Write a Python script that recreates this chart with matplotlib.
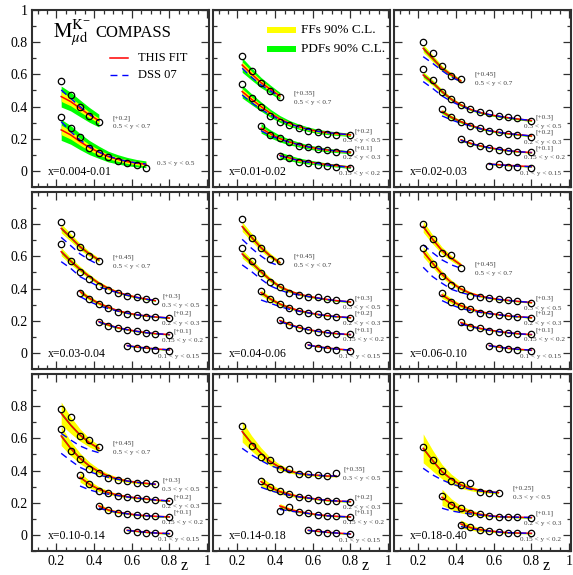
import numpy as np
import matplotlib.pyplot as plt
from matplotlib.ticker import MultipleLocator, FuncFormatter
from matplotlib.patches import Rectangle

plt.rcParams['font.family'] = ['Liberation Serif', 'DejaVu Serif']
plt.rcParams['mathtext.fontset'] = 'stix'

# z bin centres used by COMPASS
z_bins = [0.225, 0.275, 0.325, 0.375, 0.425, 0.475, 0.525, 0.575, 0.625, 0.675, 0.725, 0.8]

x_bins = ['x=0.004-0.01', 'x=0.01-0.02', 'x=0.02-0.03',
          'x=0.03-0.04', 'x=0.04-0.06', 'x=0.06-0.10',
          'x=0.10-0.14', 'x=0.14-0.18', 'x=0.18-0.40']

ybins_5 = ['0.5 < y < 0.7', '0.3 < y < 0.5', '0.2 < y < 0.3', '0.15 < y < 0.2', '0.1 < y < 0.15']

# ---- x = 0.004-0.01
p1_ybin = ['0.5 < y < 0.7', '0.3 < y < 0.5']
p1_shift = [0.2, 0.0]
p1_first = [0, 0]
p1_data = [[0.361, 0.270, 0.200, 0.142, 0.104],
           [0.337, 0.265, 0.213, 0.141, 0.114, 0.085, 0.060, 0.052, 0.039, 0.021]]
p1_fit = [[0.262, 0.231, 0.189, 0.148, 0.113],
          [0.255, 0.224, 0.182, 0.145, 0.116, 0.089, 0.072, 0.058, 0.048, 0.041]]
p1_dss = [[0.303, 0.251, 0.200, 0.154, 0.113],
          [0.306, 0.244, 0.193, 0.151, 0.118, 0.093, 0.074, 0.060, 0.050, 0.043]]
p1_ff = [[0.030, 0.026, 0.022, 0.018, 0.015],
         [0.030, 0.026, 0.022, 0.019, 0.016, 0.014, 0.012, 0.011, 0.010, 0.010]]
p1_pdf = [[0.065, 0.058, 0.052, 0.046, 0.040],
          [0.065, 0.058, 0.050, 0.044, 0.038, 0.033, 0.029, 0.026, 0.023, 0.021]]

# ---- x = 0.01-0.02
p2_ybin = ['0.5 < y < 0.7', '0.3 < y < 0.5', '0.2 < y < 0.3', '0.15 < y < 0.2']
p2_shift = [0.35, 0.2, 0.1, 0.0]
p2_first = [0, 0, 2, 4]
p2_data = [[0.364, 0.273, 0.199, 0.149, 0.108],
           [0.340, 0.251, 0.200, 0.144, 0.106, 0.086, 0.069, 0.051, 0.040, 0.030, 0.026, 0.024],
           [0.182, 0.126, 0.103, 0.082, 0.057, 0.049, 0.039, 0.028, 0.020, 0.016],
           [0.093, 0.081, 0.056, 0.048, 0.039, 0.029, 0.025, 0.019]]
p2_fit = [[0.308, 0.252, 0.199, 0.157, 0.116],
          [0.293, 0.245, 0.200, 0.158, 0.123, 0.096, 0.075, 0.059, 0.046, 0.038, 0.032, 0.024],
          [0.165, 0.130, 0.101, 0.080, 0.064, 0.049, 0.039, 0.030, 0.024, 0.016],
          [0.097, 0.081, 0.066, 0.056, 0.048, 0.039, 0.033, 0.023]]
p2_dss = [[0.288, 0.232, 0.184, 0.147, 0.112],
          [0.272, 0.224, 0.183, 0.148, 0.117, 0.093, 0.073, 0.058, 0.046, 0.038, 0.032, 0.024],
          [0.150, 0.119, 0.096, 0.078, 0.063, 0.049, 0.039, 0.030, 0.024, 0.016],
          [0.094, 0.078, 0.064, 0.054, 0.046, 0.037, 0.031, 0.021]]
p2_ff = [[0.020, 0.017, 0.014, 0.012, 0.010],
         [0.018, 0.015, 0.013, 0.011, 0.009, 0.008, 0.007, 0.006, 0.006, 0.005, 0.005, 0.005],
         [0.012, 0.010, 0.008, 0.007, 0.006, 0.005, 0.005, 0.004, 0.004, 0.004],
         [0.008, 0.007, 0.006, 0.005, 0.004, 0.004, 0.003, 0.003]]
p2_pdf = [[0.045, 0.038, 0.032, 0.026, 0.022],
          [0.040, 0.034, 0.029, 0.025, 0.021, 0.018, 0.016, 0.014, 0.013, 0.012, 0.011, 0.010],
          [0.030, 0.025, 0.021, 0.018, 0.015, 0.013, 0.012, 0.011, 0.010, 0.009],
          [0.020, 0.017, 0.015, 0.013, 0.011, 0.010, 0.009, 0.008]]

# ---- x = 0.02-0.03
p3_ybin = ybins_5
p3_shift = [0.45, 0.3, 0.2, 0.1, 0.0]
p3_first = [0, 0, 2, 4, 7]
p3_data = [[0.353, 0.281, 0.202, 0.140, 0.123],
           [0.331, 0.265, 0.193, 0.145, 0.110, 0.083, 0.064, 0.058, 0.042, 0.033, 0.027, 0.010],
           [0.183, 0.133, 0.106, 0.080, 0.065, 0.048, 0.040, 0.030, 0.024, 0.013],
           [0.097, 0.076, 0.057, 0.041, 0.030, 0.024, 0.020, 0.016],
           [0.033, 0.041, 0.027, 0.023, 0.021]]
p3_fit = [[0.312, 0.250, 0.188, 0.146, 0.109],
          [0.296, 0.249, 0.193, 0.145, 0.110, 0.083, 0.064, 0.050, 0.040, 0.031, 0.023, 0.013],
          [0.169, 0.133, 0.106, 0.084, 0.065, 0.051, 0.040, 0.032, 0.026, 0.017],
          [0.093, 0.072, 0.057, 0.045, 0.035, 0.026, 0.020, 0.014],
          [0.043, 0.039, 0.035, 0.031, 0.027]]
p3_dss = [[0.260, 0.219, 0.173, 0.132, 0.105],
          [0.255, 0.213, 0.166, 0.131, 0.104, 0.081, 0.063, 0.050, 0.040, 0.031, 0.023, 0.013],
          [0.142, 0.117, 0.096, 0.080, 0.063, 0.050, 0.040, 0.032, 0.026, 0.017],
          [0.090, 0.070, 0.056, 0.044, 0.035, 0.026, 0.020, 0.014],
          [0.042, 0.038, 0.034, 0.030, 0.026]]
p3_ff = [[0.025, 0.021, 0.017, 0.014, 0.012],
         [0.022, 0.018, 0.015, 0.012, 0.010, 0.008, 0.007, 0.006, 0.006, 0.006, 0.006, 0.006],
         [0.015, 0.012, 0.010, 0.008, 0.007, 0.006, 0.005, 0.005, 0.005, 0.005],
         [0.008, 0.007, 0.006, 0.005, 0.005, 0.004, 0.004, 0.004],
         [0.004, 0.004, 0.004, 0.004, 0.004]]
p3_pdf = [[0.012, 0.010, 0.009, 0.008, 0.007],
          [0.012, 0.010, 0.009, 0.008, 0.007, 0.006, 0.006, 0.005, 0.005, 0.005, 0.005, 0.005],
          [0.009, 0.008, 0.007, 0.006, 0.006, 0.005, 0.005, 0.004, 0.004, 0.004],
          [0.006, 0.005, 0.005, 0.004, 0.004, 0.004, 0.003, 0.003],
          [0.003, 0.003, 0.003, 0.003, 0.003]]

# ---- x = 0.03-0.04
p4_ybin = ybins_5
p4_shift = [0.45, 0.3, 0.2, 0.1, 0.0]
p4_first = [0, 0, 2, 4, 7]
p4_data = [[0.362, 0.289, 0.210, 0.152, 0.121],
           [0.377, 0.271, 0.205, 0.160, 0.118, 0.091, 0.071, 0.054, 0.046, 0.033, 0.025],
           [0.171, 0.135, 0.104, 0.082, 0.053, 0.042, 0.034, 0.026, 0.026, 0.019],
           [0.095, 0.070, 0.057, 0.045, 0.037, 0.026, 0.018, 0.012],
           [0.043, 0.029, 0.023, 0.019, 0.012]]
p4_fit = [[0.324, 0.268, 0.210, 0.165, 0.128],
          [0.329, 0.271, 0.220, 0.174, 0.133, 0.102, 0.077, 0.060, 0.046, 0.035, 0.025],
          [0.181, 0.140, 0.108, 0.084, 0.063, 0.048, 0.038, 0.030, 0.024, 0.017],
          [0.095, 0.074, 0.057, 0.045, 0.035, 0.026, 0.020, 0.014],
          [0.046, 0.037, 0.031, 0.025, 0.019]]
p4_dss = [[0.268, 0.217, 0.165, 0.128, 0.097],
          [0.267, 0.226, 0.174, 0.143, 0.112, 0.091, 0.074, 0.058, 0.045, 0.034, 0.025],
          [0.150, 0.119, 0.094, 0.075, 0.060, 0.047, 0.037, 0.029, 0.023, 0.017],
          [0.092, 0.072, 0.056, 0.044, 0.034, 0.026, 0.020, 0.014],
          [0.045, 0.036, 0.030, 0.025, 0.019]]
p4_ff = [[0.028, 0.024, 0.020, 0.016, 0.013],
         [0.025, 0.021, 0.018, 0.015, 0.012, 0.010, 0.008, 0.007, 0.006, 0.005, 0.005],
         [0.016, 0.013, 0.011, 0.009, 0.007, 0.006, 0.005, 0.005, 0.004, 0.004],
         [0.009, 0.008, 0.006, 0.005, 0.005, 0.004, 0.004, 0.003],
         [0.005, 0.004, 0.004, 0.003, 0.003]]
p4_pdf = [[0.010, 0.009, 0.008, 0.007, 0.006],
          [0.010, 0.009, 0.008, 0.007, 0.006, 0.005, 0.005, 0.004, 0.004, 0.004, 0.004],
          [0.007, 0.006, 0.005, 0.005, 0.004, 0.004, 0.003, 0.003, 0.003, 0.003],
          [0.005, 0.004, 0.004, 0.003, 0.003, 0.003, 0.003, 0.003],
          [0.003, 0.003, 0.003, 0.003, 0.003]]

# ---- x = 0.04-0.06
p5_ybin = ybins_5
p5_shift = [0.45, 0.3, 0.2, 0.1, 0.0]
p5_first = [0, 0, 2, 4, 7]
p5_data = [[0.380, 0.266, 0.200, 0.132, 0.123],
           [0.350, 0.271, 0.195, 0.143, 0.108, 0.071, 0.060, 0.050, 0.046, 0.035, 0.029, 0.015],
           [0.187, 0.133, 0.102, 0.077, 0.063, 0.051, 0.040, 0.032, 0.026, 0.019],
           [0.105, 0.074, 0.057, 0.043, 0.028, 0.022, 0.018, 0.016],
           [0.050, 0.029, 0.023, 0.019, 0.012]]
p5_fit = [[0.335, 0.268, 0.204, 0.152, 0.111],
          [0.315, 0.261, 0.205, 0.153, 0.112, 0.085, 0.066, 0.052, 0.042, 0.033, 0.025, 0.017],
          [0.175, 0.135, 0.104, 0.082, 0.063, 0.051, 0.040, 0.032, 0.026, 0.019],
          [0.101, 0.078, 0.059, 0.045, 0.035, 0.026, 0.020, 0.014],
          [0.050, 0.039, 0.031, 0.025, 0.017]]
p5_dss = [[0.256, 0.200, 0.152, 0.111, 0.090],
          [0.247, 0.205, 0.158, 0.116, 0.091, 0.071, 0.060, 0.050, 0.041, 0.032, 0.025, 0.017],
          [0.129, 0.108, 0.088, 0.071, 0.059, 0.049, 0.039, 0.031, 0.025, 0.019],
          [0.095, 0.074, 0.057, 0.044, 0.034, 0.026, 0.020, 0.014],
          [0.049, 0.038, 0.030, 0.024, 0.017]]
p5_ff = [[0.030, 0.025, 0.020, 0.016, 0.013],
         [0.026, 0.022, 0.018, 0.015, 0.012, 0.010, 0.008, 0.007, 0.006, 0.005, 0.005, 0.005],
         [0.018, 0.014, 0.011, 0.009, 0.007, 0.006, 0.005, 0.005, 0.004, 0.004],
         [0.010, 0.008, 0.006, 0.005, 0.005, 0.004, 0.004, 0.003],
         [0.005, 0.004, 0.004, 0.003, 0.003]]
p5_pdf = [[0.010, 0.009, 0.008, 0.007, 0.006],
          [0.010, 0.009, 0.008, 0.007, 0.006, 0.005, 0.005, 0.004, 0.004, 0.004, 0.004, 0.004],
          [0.007, 0.006, 0.005, 0.005, 0.004, 0.004, 0.003, 0.003, 0.003, 0.003],
          [0.005, 0.004, 0.004, 0.003, 0.003, 0.003, 0.003, 0.003],
          [0.003, 0.003, 0.003, 0.003, 0.003]]

# ---- x = 0.06-0.10
p6_ybin = ybins_5
p6_shift = [0.45, 0.3, 0.2, 0.1, 0.0]
p6_first = [0, 0, 2, 4, 7]
p6_data = [[0.351, 0.256, 0.173, 0.157, 0.076],
           [0.350, 0.253, 0.178, 0.122, 0.095, 0.054, 0.046, 0.040, 0.035, 0.029, 0.023, 0.013],
           [0.171, 0.119, 0.092, 0.071, 0.051, 0.040, 0.036, 0.030, 0.026, 0.019],
           [0.095, 0.064, 0.053, 0.037, 0.033, 0.022, 0.016, 0.016],
           [0.046, 0.029, 0.025, 0.019, 0.012]]
p6_fit = [[0.335, 0.256, 0.186, 0.138, 0.097],
          [0.329, 0.257, 0.189, 0.137, 0.098, 0.071, 0.054, 0.042, 0.033, 0.027, 0.021, 0.013],
          [0.160, 0.123, 0.094, 0.073, 0.057, 0.046, 0.038, 0.030, 0.026, 0.019],
          [0.088, 0.068, 0.053, 0.043, 0.033, 0.026, 0.020, 0.014],
          [0.046, 0.037, 0.029, 0.023, 0.017]]
p6_dss = [[0.221, 0.173, 0.128, 0.097, 0.076],
          [0.232, 0.174, 0.133, 0.095, 0.075, 0.060, 0.050, 0.041, 0.032, 0.026, 0.021, 0.013],
          [0.125, 0.098, 0.077, 0.063, 0.052, 0.044, 0.037, 0.030, 0.025, 0.019],
          [0.080, 0.064, 0.051, 0.041, 0.032, 0.025, 0.019, 0.014],
          [0.045, 0.036, 0.029, 0.023, 0.017]]
p6_ff = [[0.035, 0.028, 0.022, 0.017, 0.013],
         [0.032, 0.026, 0.020, 0.016, 0.012, 0.010, 0.008, 0.007, 0.006, 0.005, 0.005, 0.005],
         [0.020, 0.016, 0.012, 0.010, 0.008, 0.006, 0.005, 0.005, 0.004, 0.004],
         [0.011, 0.009, 0.007, 0.006, 0.005, 0.004, 0.004, 0.003],
         [0.005, 0.004, 0.004, 0.003, 0.003]]
p6_pdf = [[0.008, 0.007, 0.006, 0.005, 0.005],
          [0.008, 0.007, 0.006, 0.005, 0.004, 0.004, 0.003, 0.003, 0.003, 0.003, 0.003, 0.003],
          [0.006, 0.005, 0.004, 0.004, 0.003, 0.003, 0.003, 0.003, 0.003, 0.003],
          [0.004, 0.004, 0.003, 0.003, 0.003, 0.003, 0.003, 0.003],
          [0.003, 0.003, 0.003, 0.003, 0.003]]

# ---- x = 0.10-0.14
p7_ybin = ybins_5
p7_shift = [0.45, 0.3, 0.2, 0.1, 0.0]
p7_first = [0, 0, 2, 4, 7]
p7_data = [[0.331, 0.281, 0.167, 0.140, 0.095],
           [0.356, 0.222, 0.170, 0.110, 0.087, 0.052, 0.042, 0.035, 0.021, 0.021, 0.015],
           [0.173, 0.115, 0.075, 0.063, 0.044, 0.038, 0.032, 0.024, 0.017, 0.011],
           [0.080, 0.055, 0.035, 0.028, 0.024, 0.018, 0.018, 0.014],
           [0.031, 0.021, 0.014, 0.014, 0.010]]
p7_fit = [[0.306, 0.233, 0.171, 0.123, 0.088],
          [0.315, 0.238, 0.176, 0.129, 0.093, 0.066, 0.048, 0.035, 0.027, 0.021, 0.015],
          [0.158, 0.115, 0.084, 0.063, 0.048, 0.038, 0.030, 0.024, 0.017, 0.011],
          [0.080, 0.055, 0.041, 0.033, 0.024, 0.020, 0.016, 0.012],
          [0.029, 0.023, 0.017, 0.012, 0.008]]
p7_dss = [[0.181, 0.140, 0.103, 0.078, 0.061],
          [0.207, 0.162, 0.120, 0.093, 0.073, 0.058, 0.046, 0.035, 0.027, 0.021, 0.015],
          [0.104, 0.080, 0.063, 0.053, 0.044, 0.036, 0.029, 0.023, 0.017, 0.011],
          [0.066, 0.050, 0.039, 0.031, 0.024, 0.019, 0.015, 0.012],
          [0.028, 0.022, 0.016, 0.012, 0.008]]
p7_ff = [[0.070, 0.052, 0.038, 0.027, 0.020],
         [0.060, 0.045, 0.033, 0.024, 0.018, 0.014, 0.011, 0.009, 0.008, 0.007, 0.006],
         [0.030, 0.022, 0.016, 0.012, 0.009, 0.007, 0.006, 0.005, 0.005, 0.004],
         [0.014, 0.010, 0.008, 0.006, 0.005, 0.004, 0.004, 0.003],
         [0.005, 0.004, 0.004, 0.003, 0.003]]
p7_pdf = [[0.010, 0.008, 0.007, 0.006, 0.005],
          [0.010, 0.008, 0.007, 0.006, 0.005, 0.004, 0.004, 0.003, 0.003, 0.003, 0.003],
          [0.006, 0.005, 0.004, 0.004, 0.003, 0.003, 0.003, 0.003, 0.003, 0.003],
          [0.004, 0.003, 0.003, 0.003, 0.003, 0.003, 0.003, 0.003],
          [0.003, 0.003, 0.003, 0.003, 0.003]]

# ---- x = 0.14-0.18
p8_ybin = ['0.3 < y < 0.5', '0.2 < y < 0.3', '0.15 < y < 0.2', '0.1 < y < 0.15']
p8_shift = [0.35, 0.2, 0.1, 0.0]
p8_first = [0, 2, 4, 7]
p8_data = [[0.327, 0.205, 0.137, 0.116, 0.058, 0.058, 0.029, 0.029, 0.023, 0.016, 0.033],
           [0.135, 0.096, 0.075, 0.053, 0.038, 0.032, 0.017, 0.013, 0.011, 0.007],
           [0.051, 0.072, 0.045, 0.035, 0.024, 0.020, 0.018, 0.014],
           [0.031, 0.021, 0.014, 0.010, 0.004]]
p8_fit = [[0.292, 0.219, 0.157, 0.105, 0.070, 0.048, 0.033, 0.025, 0.021, 0.016, 0.016],
          [0.131, 0.096, 0.069, 0.053, 0.038, 0.030, 0.022, 0.015, 0.011, 0.007],
          [0.080, 0.059, 0.045, 0.035, 0.026, 0.020, 0.016, 0.012],
          [0.029, 0.023, 0.017, 0.012, 0.006]]
p8_dss = [[0.188, 0.147, 0.112, 0.081, 0.060, 0.043, 0.032, 0.025, 0.021, 0.016, 0.016],
          [0.096, 0.075, 0.059, 0.046, 0.036, 0.029, 0.021, 0.015, 0.011, 0.007],
          [0.059, 0.049, 0.041, 0.033, 0.025, 0.019, 0.015, 0.012],
          [0.028, 0.022, 0.016, 0.012, 0.006]]
p8_ff = [[0.065, 0.048, 0.035, 0.025, 0.018, 0.013, 0.010, 0.008, 0.007, 0.006, 0.006],
         [0.030, 0.022, 0.016, 0.012, 0.009, 0.007, 0.006, 0.005, 0.005, 0.004],
         [0.015, 0.011, 0.008, 0.006, 0.005, 0.004, 0.004, 0.003],
         [0.004, 0.004, 0.003, 0.003, 0.003]]
p8_pdf = [[0.010, 0.008, 0.007, 0.006, 0.005, 0.004, 0.004, 0.003, 0.003, 0.003, 0.003],
          [0.006, 0.005, 0.004, 0.004, 0.003, 0.003, 0.003, 0.003, 0.003, 0.003],
          [0.004, 0.003, 0.003, 0.003, 0.003, 0.003, 0.003, 0.003],
          [0.003, 0.003, 0.003, 0.003, 0.003]]

# ---- x = 0.18-0.40
p9_ybin = ['0.3 < y < 0.5', '0.2 < y < 0.3', '0.15 < y < 0.2']
p9_shift = [0.25, 0.1, 0.0]
p9_first = [0, 2, 4]
p9_data = [[0.295, 0.216, 0.150, 0.087, 0.061, 0.071, 0.019, 0.013, 0.013],
           [0.142, 0.086, 0.066, 0.039, 0.028, 0.018, 0.014, 0.010, 0.010, 0.008],
           [0.062, 0.048, 0.031, 0.025, 0.021, 0.014, 0.010, 0.010]]
p9_fit = [[0.288, 0.212, 0.143, 0.096, 0.061, 0.040, 0.025, 0.017, 0.013],
          [0.134, 0.090, 0.059, 0.041, 0.028, 0.020, 0.014, 0.012, 0.010, 0.008],
          [0.068, 0.046, 0.033, 0.025, 0.019, 0.014, 0.012, 0.010]]
p9_dss = [[0.164, 0.123, 0.092, 0.067, 0.050, 0.034, 0.024, 0.017, 0.013],
          [0.066, 0.049, 0.039, 0.030, 0.024, 0.018, 0.013, 0.011, 0.010, 0.008],
          [0.052, 0.039, 0.030, 0.024, 0.018, 0.014, 0.012, 0.010]]
p9_ff = [[0.090, 0.065, 0.045, 0.031, 0.021, 0.015, 0.011, 0.009, 0.008],
         [0.050, 0.034, 0.023, 0.016, 0.011, 0.008, 0.006, 0.005, 0.005, 0.004],
         [0.025, 0.017, 0.012, 0.008, 0.006, 0.005, 0.004, 0.004]]
p9_pdf = [[0.010, 0.008, 0.007, 0.006, 0.005, 0.004, 0.004, 0.003, 0.003],
          [0.006, 0.005, 0.004, 0.004, 0.003, 0.003, 0.003, 0.003, 0.003, 0.003],
          [0.004, 0.003, 0.003, 0.003, 0.003, 0.003, 0.003, 0.003]]

panels = [
    (p1_ybin, p1_shift, p1_first, p1_data, p1_fit, p1_dss, p1_ff, p1_pdf),
    (p2_ybin, p2_shift, p2_first, p2_data, p2_fit, p2_dss, p2_ff, p2_pdf),
    (p3_ybin, p3_shift, p3_first, p3_data, p3_fit, p3_dss, p3_ff, p3_pdf),
    (p4_ybin, p4_shift, p4_first, p4_data, p4_fit, p4_dss, p4_ff, p4_pdf),
    (p5_ybin, p5_shift, p5_first, p5_data, p5_fit, p5_dss, p5_ff, p5_pdf),
    (p6_ybin, p6_shift, p6_first, p6_data, p6_fit, p6_dss, p6_ff, p6_pdf),
    (p7_ybin, p7_shift, p7_first, p7_data, p7_fit, p7_dss, p7_ff, p7_pdf),
    (p8_ybin, p8_shift, p8_first, p8_data, p8_fit, p8_dss, p8_ff, p8_pdf),
    (p9_ybin, p9_shift, p9_first, p9_data, p9_fit, p9_dss, p9_ff, p9_pdf),
]

W, H = 573, 575
fig = plt.figure(figsize=(W / 100, H / 100), dpi=100)

col_left = [32, 213, 394]
row_top = [10, 192, 374]
pw, ph = 177, 177
label_col = '#404040'
frame_col = '#303030'

for k, (ybin, shift, first, data, fit, dss, ff, pdf) in enumerate(panels):
    r, c = divmod(k, 3)
    ax = fig.add_axes([col_left[c] / W, 1 - (row_top[r] + ph) / H, pw / W, ph / H])
    ax.set_xlim(0.07, 1.01)
    ax.set_ylim(-0.1, 1.0)

    for i in range(len(data)):
        n = len(data[i])
        z = np.array(z_bins[first[i]:first[i] + n])
        f = np.array(fit[i]) + shift[i]
        bands = [(np.array(ff[i]), '#ffff00'), (np.array(pdf[i]), '#00ff00')]
        bands.sort(key=lambda b: -b[0].sum())   # wider band underneath
        for err, col in bands:
            ax.fill_between(z, f - err, f + err, color=col, lw=0, zorder=1)
        ax.plot(z, f, color='#ff0000', lw=1.1, zorder=3)
        ax.plot(z, np.array(dss[i]) + shift[i], color='#0000ff', lw=1.0,
                dashes=(5, 3.5), zorder=4)
        ax.plot(z, np.array(data[i]) + shift[i], 'o', mfc='none', mec='black',
                ms=4.6, mew=0.9, zorder=5)

        # series labels next to the last point
        zl, yl = z[-1], data[i][-1] + shift[i]
        ends_high = zl > 0.75
        if shift[i] > 0:
            bx = 4 if ends_high else (7 if zl > 0.7 else 14)
            ax.annotate(f'[+{shift[i]:g}]', (zl, yl), xytext=(bx, 4),
                        textcoords='offset pixels', fontsize=5.2, color=label_col,
                        ha='left', va='center')
            rx, ry = (-7, -5.5) if ends_high else (bx, -5)
        else:
            rx, ry = (-11, -6) if ends_high else (11, 4)
        ax.annotate(ybin[i], (zl, yl), xytext=(rx, ry), textcoords='offset pixels',
                    fontsize=5.2, color=label_col, ha='left', va='center')

    ax.text(0.09, 0.085, x_bins[k], transform=ax.transAxes, fontsize=8.5,
            ha='left', va='center')

    # ticks in the xmgrace style
    ax.xaxis.set_major_locator(MultipleLocator(0.2))
    ax.xaxis.set_minor_locator(MultipleLocator(0.05))
    ax.yaxis.set_major_locator(MultipleLocator(0.2))
    ax.yaxis.set_minor_locator(MultipleLocator(0.1))
    ax.tick_params(which='both', direction='in', top=True, right=True,
                   color=frame_col, width=0.9, labelsize=10)
    ax.tick_params(which='major', length=6)
    ax.tick_params(which='minor', length=3)
    ax.xaxis.set_major_formatter(FuncFormatter(lambda v, p: f'{v:g}' if v > 0.1 else ''))
    top_lab = 1.0 if r == 0 else 0.9
    ax.yaxis.set_major_formatter(FuncFormatter(
        lambda v, p, t=top_lab: f'{round(v, 2):g}' if -0.05 < v < t + 0.05 else ''))
    ax.tick_params(labelleft=(c == 0), labelbottom=(r == 2), pad=3)
    for s in ax.spines.values():
        s.set_linewidth(1.5)
        s.set_color(frame_col)

    if r == 2:
        ax.annotate('z', (0.88, -0.085), xycoords=('data', 'axes fraction'),
                    fontsize=11.5, ha='center', va='center', annotation_clip=False)

    if k == 0:
        ax.text(0.12, 0.87, r'$\mathrm{M}^{\mathrm{K}^{-}}_{\mu\mathrm{d}}$',
                transform=ax.transAxes, fontsize=15, ha='left', va='center')
        ax.text(0.36, 0.87, 'COMPASS', transform=ax.transAxes, fontsize=12,
                ha='left', va='center')
        ax.plot([0.44, 0.54], [0.729, 0.729], transform=ax.transAxes,
                color='#ff0000', lw=1.1)
        ax.text(0.60, 0.729, 'THIS FIT', transform=ax.transAxes, fontsize=9,
                ha='left', va='center')
        ax.plot([0.44, 0.54], [0.633, 0.633], transform=ax.transAxes,
                color='#0000ff', lw=1.0, dashes=(5, 3.5))
        ax.text(0.60, 0.633, 'DSS 07', transform=ax.transAxes, fontsize=9,
                ha='left', va='center')
    if k == 1:
        ax.add_patch(Rectangle((0.305, 0.868), 0.165, 0.036, transform=ax.transAxes,
                               color='#ffff00', lw=0))
        ax.text(0.497, 0.886, 'FFs 90% C.L.', transform=ax.transAxes, fontsize=9.5,
                ha='left', va='center')
        ax.add_patch(Rectangle((0.305, 0.760), 0.165, 0.038, transform=ax.transAxes,
                               color='#00ff00', lw=0))
        ax.text(0.497, 0.779, 'PDFs 90% C.L.', transform=ax.transAxes, fontsize=9.5,
                ha='left', va='center')

fig.savefig('out.png', dpi=100)
